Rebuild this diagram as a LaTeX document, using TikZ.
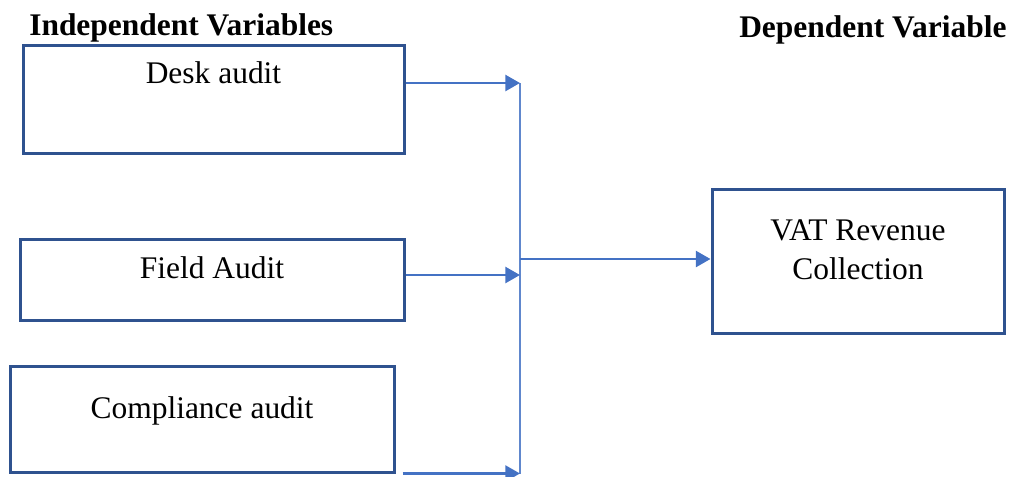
\documentclass[tikz,border=0pt]{standalone}
\usepackage{fontspec}
\setmainfont{LiberationSerif}[Extension=.ttf, UprightFont=*-Regular, BoldFont=*-Bold, ItalicFont=*-Italic, BoldItalicFont=*-BoldItalic]
\usetikzlibrary{arrows.meta, positioning}

\definecolor{boxline}{HTML}{2F528F}
\definecolor{arrline}{HTML}{4472C4}

\begin{document}
\begin{tikzpicture}[
    x=0.75pt, y=-0.75pt,
    var/.style={rectangle, draw=boxline, line width=2.25pt, inner sep=0pt, align=center, font=\fontsize{23.6}{29.25}\selectfont},
    head/.style={anchor=base west, inner sep=0pt, font=\fontsize{23.6}{29.25}\selectfont\bfseries},
    arrow/.style={-{Triangle[length=11pt, width=12pt]}, draw=arrline, line width=1.9pt},
    bus/.style={draw=arrline!85, line width=1.3pt}
]
\useasboundingbox (0,0) rectangle (1018,476);

% Headings
\node (indep) [head] at (29,35) {Independent Variables};
\node (dep) [head] at (739,37) {Dependent Variable};

% Independent variables
\node (desk) [var, minimum width=285.75pt, minimum height=81pt, text height=28.5pt, text depth=52.5pt] at (213.5,99) {Desk audit};
\node (field) [var, minimum width=288pt, minimum height=60.75pt, text height=29.25pt, text depth=31.5pt] at (212,279.5) {Field Audit};
\node (comp) [var, minimum width=288pt, minimum height=79.5pt, text height=39pt, text depth=40.5pt] at (202,419) {Compliance audit};

% Dependent variable
\node (vat) [var, minimum width=219pt, minimum height=108pt, text height=67.5pt, text depth=40.5pt] at (858,261) {VAT Revenue\\Collection};

% Bus points
\coordinate (b1) at (520,83);
\coordinate (b2) at (520,275);
\coordinate (b3) at (520,471);
\coordinate (bo) at (520,259);
\coordinate (bend) at (520,474);

% Connections
\draw [bus] (b1) -- (bend);
\draw [arrow] (desk.east |- b1) -- (b1);
\draw [arrow] (field.east |- b2) -- (b2);
\draw [arrow] ([xshift=5.25pt]comp.south east) -- (comp.south east -| b3);
\draw [arrow] (bo) -- (vat.west |- bo);

\end{tikzpicture}
\end{document}
